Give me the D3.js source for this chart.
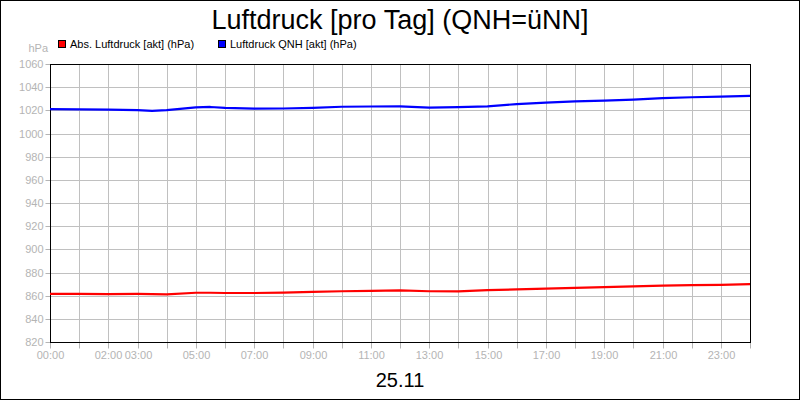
<!DOCTYPE html>
<html>
<head>
<meta charset="utf-8">
<script src="https://cdn.jsdelivr.net/npm/d3@7"></script>
<style>
  body { margin: 0; background: #fff; }
  svg { display: block; font-family: "Liberation Sans", Arial, sans-serif; }
</style>
</head>
<body>
<div id="chart"></div>
<script>
// hours of the day (0..24)
const hours = [0, 1, 2, 3, 3.5, 4, 5, 5.5, 6, 7, 8, 9, 10, 11, 12, 13, 14, 15, 16, 17, 18, 19, 20, 21, 22, 23, 24];
const absPressure = [861.6, 861.6, 861.4, 861.5, 861.3, 861.2, 862.5, 862.5, 862.3, 862.3, 862.6, 863.2, 863.8, 864.2, 864.5, 863.8, 863.7, 864.7, 865.4, 866.1, 866.8, 867.4, 868.0, 868.7, 869.1, 869.4, 870.0];
const qnhPressure = [1021.0, 1020.8, 1020.6, 1020.2, 1019.6, 1020.1, 1022.5, 1022.9, 1022.2, 1021.5, 1021.6, 1022.2, 1023.1, 1023.3, 1023.4, 1022.4, 1022.7, 1023.4, 1025.4, 1026.6, 1027.7, 1028.4, 1029.2, 1030.5, 1031.3, 1031.8, 1032.4];
const yTicks = [820, 840, 860, 880, 900, 920, 940, 960, 980, 1000, 1020, 1040, 1060];
const xLabels = {0: "00:00", 2: "02:00", 3: "03:00", 5: "05:00", 7: "07:00", 9: "09:00", 11: "11:00",
                 13: "13:00", 15: "15:00", 17: "17:00", 19: "19:00", 21: "21:00", 23: "23:00"};
const seriesNames = ["Abs. Luftdruck [akt] (hPa)", "Luftdruck QNH [akt] (hPa)"];
const seriesColors = ["#ff0000", "#0000ff"];

const W = 800, H = 400;
const plotLeft = 50, plotRight = 750, plotTop = 64, plotBottom = 342;
const grey = "#b4b4b4";

const svg = d3.select("#chart").append("svg").attr("width", W).attr("height", H);

svg.append("rect").attr("x", 0.5).attr("y", 0.5).attr("width", W - 1).attr("height", H - 1)
  .attr("fill", "#fff").attr("stroke", "#000");

const x = d3.scaleLinear().domain([0, 24]).range([plotLeft, plotRight]);
const y = d3.scaleLinear().domain([820, 1060]).range([plotBottom, plotTop]);

// grid
const g = svg.append("g").attr("transform", "translate(0.5,0.5)");
g.selectAll(".vg").data(d3.range(1, 24)).join("line")
  .attr("x1", d => Math.round(x(d))).attr("x2", d => Math.round(x(d)))
  .attr("y1", plotTop).attr("y2", plotBottom).attr("stroke", "#c0c0c0");
g.selectAll(".hg").data(yTicks.slice(1, -1)).join("line")
  .attr("x1", plotLeft).attr("x2", plotRight)
  .attr("y1", d => Math.round(y(d))).attr("y2", d => Math.round(y(d))).attr("stroke", "#c0c0c0");

// y axis
const yAxis = g.append("g").attr("transform", `translate(${plotLeft},0)`)
  .call(d3.axisLeft(y).tickValues(yTicks).tickSize(5).tickPadding(2).tickFormat(d3.format("d")));
yAxis.select(".domain").remove();
yAxis.selectAll(".tick line").attr("stroke", grey);
yAxis.selectAll(".tick").attr("transform", d => `translate(0,${Math.round(y(d))})`);
yAxis.selectAll("text").attr("fill", grey).attr("font-size", 11).attr("font-family", "Liberation Sans, Arial, sans-serif");

// x axis
const xAxis = g.append("g").attr("transform", `translate(0,${plotBottom})`)
  .call(d3.axisBottom(x).tickValues(d3.range(0, 25)).tickSize(6).tickPadding(3)
    .tickFormat(d => xLabels[d] || ""));
xAxis.select(".domain").remove();
xAxis.selectAll(".tick").attr("transform", d => `translate(${Math.round(x(d))},0)`);
xAxis.selectAll(".tick line").attr("stroke", grey);
xAxis.selectAll("text").attr("fill", grey).attr("font-size", 11).attr("font-family", "Liberation Sans, Arial, sans-serif");

// frame
g.append("rect").attr("x", plotLeft).attr("y", plotTop).attr("width", plotRight - plotLeft).attr("height", plotBottom - plotTop)
  .attr("fill", "none").attr("stroke", "#000");

// lines
const line = d3.line().x((d, i) => x(hours[i])).y(d => y(d));
[absPressure, qnhPressure].forEach((vals, i) => {
  svg.append("path").datum(vals).attr("d", line)
    .attr("fill", "none").attr("stroke", seriesColors[i]).attr("stroke-width", 2.2)
    .attr("stroke-linejoin", "round");
});

// title
svg.append("text").attr("x", 400).attr("y", 29).attr("text-anchor", "middle")
  .attr("font-size", 27).attr("fill", "#000").text("Luftdruck [pro Tag] (QNH=üNN]");

// unit label
svg.append("text").attr("x", 48).attr("y", 52).attr("text-anchor", "end")
  .attr("font-size", 11).attr("fill", grey).text("hPa");

// legend
const legX = [58, 218];
seriesNames.forEach((name, i) => {
  svg.append("rect").attr("x", legX[i] + 0.5).attr("y", 40.5).attr("width", 7).attr("height", 7)
    .attr("fill", seriesColors[i]).attr("stroke", "#000");
  svg.append("text").attr("x", legX[i] + 12).attr("y", 48).attr("font-size", 11)
    .attr("fill", "#000").text(name);
});

// date label
svg.append("text").attr("x", 400).attr("y", 387).attr("text-anchor", "middle")
  .attr("font-size", 20).attr("fill", "#000").text("25.11");
</script>
</body>
</html>
